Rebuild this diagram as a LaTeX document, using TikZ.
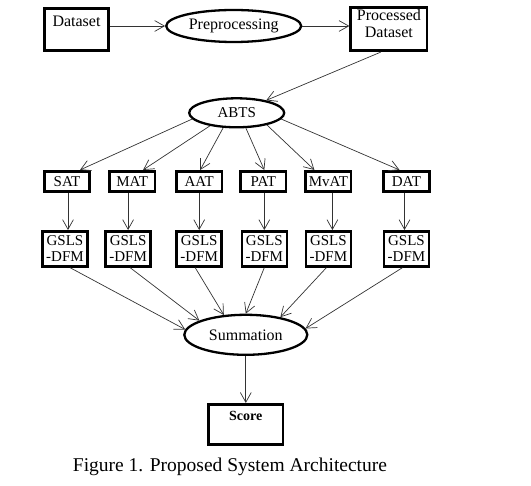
\documentclass[tikz,border=0pt]{standalone}
\usepackage{fontspec}
\setmainfont{Liberation Serif}
\usetikzlibrary{arrows.meta,positioning,shapes.geometric}

\begin{document}
\begin{tikzpicture}[
  box/.style   = {draw, line width=2.6pt, align=center, inner sep=1pt,
                  font=\fontsize{15}{16}\selectfont},
  io/.style    = {box, minimum height=42.5pt, font=\fontsize{16}{17}\selectfont},
  algo/.style  = {box, minimum width=45.5pt, minimum height=20.5pt},
  dfm/.style   = {box, minimum width=45pt, minimum height=35pt},
  oval/.style  = {draw, ellipse, line width=2.3pt, inner sep=0pt,
                  font=\fontsize{16}{17}\selectfont},
  arr/.style   = {-{Straight Barb[length=3.4mm,width=3.8mm]}, line width=0.7pt, black!80},
  figcap/.style = {font=\fontsize{19.5}{22}\selectfont, inner sep=0pt}
]
\useasboundingbox (0pt,0pt) rectangle (531pt,-486pt);

%% ---- input band ---------------------------------------------------
\node[io, minimum width=64.5pt, text depth=17pt] (data) at (76.5pt,-29.5pt) {Dataset};
\node[oval, minimum width=135pt, minimum height=32pt,
      right=55pt of data, yshift=3.5pt] (prep) {Preprocessing};
\node[io, minimum width=76.5pt, minimum height=43.5pt, text depth=12pt,
      right=47pt of prep, yshift=-3pt] (proc) {Processed\\Dataset};

\draw[arr] (data.east |- prep) -- (prep);
\draw[arr] (prep) -- (proc.west |- prep);

%% ---- attack types -------------------------------------------------
\node[oval, minimum width=95pt, minimum height=29pt, font=\fontsize{15}{16}\selectfont,
      below=54pt of prep, xshift=3pt] (abts) {ABTS};
\draw[arr] ([xshift=-8pt]proc.south) -- (abts);

\node[algo] (sat) at (67pt,-181.5pt) {SAT};
\node[algo, right=17pt of sat]  (mat)  {MAT};
\node[algo, right=19pt of mat]  (aat)  {AAT};
\node[algo, right=16pt of aat]  (pat)  {PAT};
\node[algo, right=17pt of pat]  (mvat) {MvAT};
\node[algo, right=30pt of mvat] (dat)  {DAT};

\draw[arr] (abts.188) -- ([xshift=13pt]sat.north);
\draw[arr] (abts.206) -- ([xshift=11pt]mat.north);
\draw[arr] (abts.228) -- ([xshift=1pt]aat.north);
\draw[arr] (abts.301) -- ([xshift=1pt]pat.north);
\draw[arr] (abts.338) -- ([xshift=-14pt]mvat.north);
\draw[arr] (abts.352) -- ([xshift=-7pt]dat.north);

%% ---- GSLS-DFM stage -----------------------------------------------
\node[dfm, below=37pt of sat, xshift=-2pt]  (g1) {GSLS\\-DFM};
\node[dfm, below=37pt of mat, xshift=-4pt]  (g2) {GSLS\\-DFM};
\node[dfm, below=37pt of aat]               (g3) {GSLS\\-DFM};
\node[dfm, below=37pt of pat, xshift=1pt]   (g4) {GSLS\\-DFM};
\node[dfm, below=37pt of mvat]              (g5) {GSLS\\-DFM};
\node[dfm, below=37pt of dat]               (g6) {GSLS\\-DFM};

\draw[arr] ([xshift=3pt]g1.north |- sat.south) -- ([xshift=3pt]g1.north);
\draw[arr] (g2.north |- mat.south)  -- (g2.north);
\draw[arr] (g3.north |- aat.south)  -- (g3.north);
\draw[arr] (g4.north |- pat.south)  -- (g4.north);
\draw[arr] ([xshift=4pt]g5.north |- mvat.south) -- ([xshift=4pt]g5.north);
\draw[arr] ([xshift=-2pt]g6.north |- dat.south)  -- ([xshift=-2pt]g6.north);

%% ---- output band --------------------------------------------------
\node[oval, minimum width=123pt, minimum height=40pt,
      below=46pt of g4, xshift=-18.5pt] (sum) {Summation};
\node[io, minimum width=74.5pt, minimum height=40.5pt, text depth=17pt,
      font=\bfseries\fontsize{14}{16}\selectfont, below=47pt of sum] (score) {Score};

\draw[arr] ([xshift=5pt]g1.south)  -- (sum.175);
\draw[arr] ([xshift=2pt]g2.south)  -- (sum.163);
\draw[arr] ([xshift=-4pt]g3.south) -- (sum.138);
\draw[arr] (g4.south)              -- (sum.90);
\draw[arr] ([xshift=-2pt]g5.south) -- (sum.27);
\draw[arr] ([xshift=-4pt]g6.south) -- (sum.6);
\draw[arr] (sum) -- (score);

\node[figcap] (fig) at (230pt,-467pt) {Figure 1. Proposed System Architecture};
\end{tikzpicture}
\end{document}
